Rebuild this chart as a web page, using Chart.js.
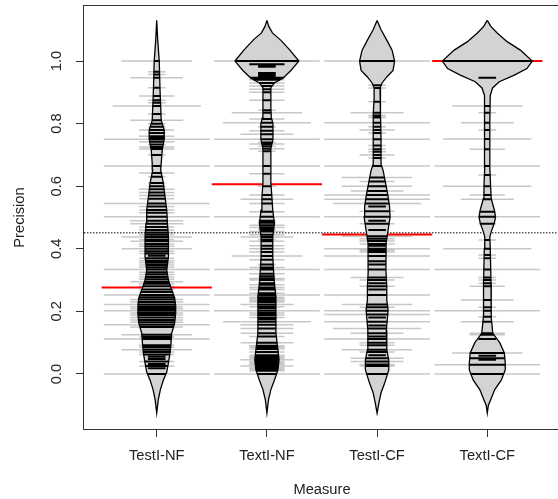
<!DOCTYPE html>
<html>
<head>
<meta charset="utf-8">
<script src="https://cdn.jsdelivr.net/npm/chart.js@4.4.1/dist/chart.umd.min.js"></script>
<style>
  html, body { margin: 0; padding: 0; background: #fff; overflow: hidden; }
  #wrap { width: 558px; height: 499px; overflow: hidden; }
</style>
</head>
<body>
<div id="wrap"><canvas id="beanChart" width="560" height="499"></canvas></div>
<script>
const categories = ["TestI-NF", "TextI-NF", "TestI-CF", "TextI-CF"];
const yTicks = [0, 0.2, 0.4, 0.6, 0.8, 1.0];

// group means (red) and the overall mean (dotted)
const means = [0.276, 0.606, 0.446, 1.0];
const overallMean = 0.451;

// density outline of each bean: [precision, half width in x units]
const testNFShape = [[1.13,0],[1.067,0.009],[1.0,0.023],[0.907,0.03],[0.81,0.041],[0.78,0.068],[0.75,0.068],[0.716,0.05],[0.674,0.041],[0.652,0.036],[0.61,0.06],[0.567,0.075],[0.524,0.091],[0.482,0.097],[0.438,0.106],[0.375,0.106],[0.332,0.091],[0.3,0.106],[0.268,0.136],[0.243,0.163],[0.222,0.17],[0.195,0.172],[0.163,0.163],[0.13,0.136],[0.1,0.13],[0.067,0.121],[0.035,0.106],[0.006,0.091],[-0.02,0.06],[-0.05,0.033],[-0.083,0.014],[-0.125,0]];
const textNFShape = [[1.13,0],[1.11,0.018],[1.09,0.05],[1.067,0.125],[1.035,0.209],[1.0,0.29],[0.97,0.218],[0.945,0.145],[0.93,0.068],[0.915,0.036],[0.85,0.036],[0.82,0.04],[0.8,0.055],[0.75,0.055],[0.72,0.036],[0.65,0.036],[0.61,0.036],[0.567,0.045],[0.524,0.053],[0.482,0.068],[0.438,0.053],[0.375,0.053],[0.332,0.06],[0.29,0.068],[0.247,0.082],[0.13,0.082],[0.077,0.1],[0.045,0.11],[0.013,0.1],[-0.02,0.068],[-0.05,0.036],[-0.083,0.014],[-0.125,0]];
const testCFShape = [[1.13,0],[1.1,0.036],[1.067,0.088],[1.035,0.136],[1.0,0.159],[0.97,0.145],[0.95,0.09],[0.93,0.045],[0.914,0.027],[0.88,0.027],[0.83,0.034],[0.75,0.036],[0.67,0.036],[0.65,0.055],[0.6,0.082],[0.567,0.1],[0.535,0.113],[0.502,0.118],[0.46,0.1],[0.418,0.082],[0.332,0.08],[0.28,0.088],[0.236,0.088],[0.204,0.1],[0.14,0.084],[0.077,0.088],[0.045,0.106],[0.013,0.106],[-0.03,0.068],[-0.06,0.036],[-0.09,0.018],[-0.125,0]];
const textCFShape = [[1.13,0],[1.11,0.034],[1.09,0.09],[1.062,0.18],[1.035,0.3],[1.0,0.408],[0.976,0.36],[0.955,0.245],[0.934,0.109],[0.914,0.048],[0.89,0.027],[0.8,0.023],[0.66,0.023],[0.6,0.03],[0.56,0.036],[0.524,0.064],[0.502,0.075],[0.482,0.064],[0.455,0.036],[0.438,0.023],[0.4,0.027],[0.29,0.034],[0.18,0.036],[0.13,0.05],[0.1,0.113],[0.067,0.155],[0.035,0.163],[0.013,0.163],[-0.02,0.127],[-0.05,0.068],[-0.083,0.03],[-0.1,0.01],[-0.125,0]];

// observations: [precision, number of items with that value]
const testNFLines = [[1.0,4],[0.966,1],[0.957,1],[0.947,3],[0.915,1],[0.888,2],[0.875,1],[0.867,1],[0.856,5],[0.831,1],[0.811,3],[0.8,1],[0.79,1],[0.78,2],[0.77,1],[0.76,2],[0.755,1],[0.75,6],[0.742,2],[0.733,1],[0.725,2],[0.719,2],[0.7,1],[0.665,6],[0.642,2],[0.63,1],[0.61,1],[0.6,1],[0.59,2],[0.58,2],[0.57,2],[0.56,2],[0.545,6],[0.535,2],[0.524,2],[0.515,2],[0.502,6],[0.49,3],[0.48,3],[0.47,2],[0.46,2],[0.452,2],[0.445,2],[0.438,4],[0.43,2],[0.424,3],[0.415,2],[0.408,2],[0.4,4],[0.392,2],[0.385,2],[0.378,1],[0.37,2],[0.362,2],[0.355,2],[0.348,2],[0.341,2],[0.334,6],[0.325,2],[0.318,2],[0.31,2],[0.303,2],[0.295,3],[0.288,2],[0.28,2],[0.27,2],[0.262,2],[0.252,6],[0.245,2],[0.238,3],[0.23,3],[0.222,6],[0.215,3],[0.208,3],[0.202,6],[0.195,3],[0.188,3],[0.18,3],[0.172,3],[0.165,3],[0.157,6],[0.15,3],[0.125,4],[0.118,2],[0.112,6],[0.092,2],[0.085,2],[0.077,4],[0.07,2],[0.062,2],[0.055,1],[0.048,1],[0.04,2],[0.032,1],[0.025,2],[0.018,1],[0.0,6]];
const textNFLines = [[1.0,6],[0.99,2],[0.985,1],[0.982,1],[0.962,1],[0.958,1],[0.955,1],[0.952,1],[0.947,2],[0.94,2],[0.93,2],[0.92,2],[0.91,2],[0.9,2],[0.875,2],[0.843,1],[0.835,4],[0.815,2],[0.803,5],[0.79,1],[0.777,2],[0.766,3],[0.75,6],[0.74,1],[0.735,2],[0.728,1],[0.72,2],[0.712,1],[0.665,6],[0.64,2],[0.6,1],[0.572,2],[0.558,3],[0.545,2],[0.518,2],[0.502,6],[0.49,1],[0.483,1],[0.475,2],[0.468,2],[0.462,1],[0.455,2],[0.445,2],[0.438,3],[0.43,1],[0.424,2],[0.41,2],[0.4,2],[0.39,2],[0.377,4],[0.365,2],[0.35,1],[0.34,2],[0.334,6],[0.32,2],[0.312,1],[0.305,2],[0.3,2],[0.29,1],[0.285,2],[0.276,2],[0.27,2],[0.258,2],[0.252,6],[0.245,2],[0.24,2],[0.235,2],[0.23,2],[0.222,3],[0.215,2],[0.21,1],[0.202,6],[0.195,2],[0.188,2],[0.18,2],[0.175,1],[0.167,5],[0.157,3],[0.145,3],[0.13,3],[0.12,2],[0.1,3],[0.09,2],[0.085,2],[0.08,2],[0.07,2],[0.06,2],[0.055,2],[0.05,2],[0.045,3],[0.04,2],[0.035,2],[0.03,2],[0.025,3],[0.02,2],[0.015,2],[0.01,2],[0.0,6]];
const testCFLines = [[1.0,6],[0.923,1],[0.914,1],[0.87,1],[0.835,3],[0.826,1],[0.82,1],[0.803,6],[0.79,1],[0.78,2],[0.77,1],[0.75,6],[0.73,1],[0.718,1],[0.71,1],[0.7,2],[0.69,1],[0.665,6],[0.628,4],[0.615,2],[0.6,4],[0.585,3],[0.572,6],[0.558,6],[0.545,5],[0.535,1],[0.52,2],[0.502,6],[0.49,1],[0.48,2],[0.46,1],[0.44,4],[0.432,2],[0.425,2],[0.415,2],[0.41,1],[0.4,6],[0.395,2],[0.39,2],[0.377,6],[0.36,1],[0.35,1],[0.334,6],[0.308,3],[0.3,2],[0.29,1],[0.28,2],[0.27,1],[0.252,6],[0.222,4],[0.213,2],[0.202,6],[0.19,6],[0.18,1],[0.167,6],[0.155,1],[0.145,5],[0.13,3],[0.12,1],[0.112,6],[0.1,2],[0.092,2],[0.077,4],[0.07,2],[0.06,1],[0.05,3],[0.04,3],[0.03,2],[0.025,2],[0.0,6]];
const textCFLines = [[1.0,6],[0.947,1],[0.856,4],[0.835,1],[0.803,3],[0.78,1],[0.751,5],[0.718,2],[0.665,6],[0.636,1],[0.6,5],[0.572,2],[0.558,3],[0.518,1],[0.502,6],[0.48,1],[0.428,1],[0.4,5],[0.38,1],[0.37,1],[0.334,6],[0.308,1],[0.3,1],[0.29,1],[0.28,2],[0.236,3],[0.213,1],[0.202,6],[0.183,1],[0.167,3],[0.13,2],[0.128,1],[0.125,2],[0.112,1],[0.067,4],[0.058,1],[0.05,2],[0.045,1],[0.029,6],[0.0,6]];

const xMin = 0.34, xMax = 4.66;
const yMin = -0.176, yMax = 1.176;
const lineHalfPerItem = 0.08;   // half length of a beanline per observation
const lineHalfMax = 0.48;
const meanHalf = 0.5;

const shapes = [testNFShape, textNFShape, testCFShape, textCFShape];
const lineSets = [testNFLines, textNFLines, testCFLines, textCFLines];

// half width of the bean outline at a given precision
function halfWidthAt(shape, v) {
    for (let i = 0; i < shape.length - 1; i++) {
        const [v0, w0] = shape[i];
        const [v1, w1] = shape[i + 1];
        if (v <= v0 && v >= v1) {
            return w0 + (w1 - w0) * (v0 - v) / (v0 - v1);
        }
    }
    return 0;
}

// push the two pieces of a centred segment that lie outside the bean
function pushOuter(pts, c, v, half, inner) {
    if (half <= inner) return;
    pts.push({ x: c - half, y: v }, { x: c - inner, y: v }, { x: c, y: null });
    pts.push({ x: c + inner, y: v }, { x: c + half, y: v }, { x: c, y: null });
}

const grayPts = [];
const blackPts = [];
const redPts = [];
const beanSets = [];

shapes.forEach((shape, i) => {
    const c = i + 1;
    lineSets[i].forEach(([v, n]) => {
        const half = Math.min(n * lineHalfPerItem, lineHalfMax);
        const inner = Math.min(half, halfWidthAt(shape, v));
        pushOuter(grayPts, c, v, half, inner);
        if (inner > 0) {
            blackPts.push({ x: c - inner, y: v }, { x: c + inner, y: v }, { x: c, y: null });
        }
    });
    // the mean line disappears behind the bean
    pushOuter(redPts, c, means[i], meanHalf, halfWidthAt(shape, means[i]));

    const right = shape.map(([v, w]) => ({ x: c + w, y: v }));
    const left = shape.slice().reverse().map(([v, w]) => ({ x: c - w, y: v }));
    beanSets.push({
        data: right.concat(left),
        borderColor: "#000",
        borderWidth: 1.3,
        backgroundColor: "#d3d3d3",
        fill: "shape",
        order: 5
    });
});

const lineDefaults = { pointRadius: 0, tension: 0, spanGaps: false, fill: false };

const datasets = [
    Object.assign({ data: grayPts, borderColor: "#c8c8c8", borderWidth: 1.5, order: 10 }, lineDefaults),
    Object.assign({
        data: [{ x: xMin, y: overallMean }, { x: xMax, y: overallMean }],
        borderColor: "#000", borderWidth: 1, borderDash: [1.5, 1.5], order: 9
    }, lineDefaults),
    Object.assign({ data: redPts, borderColor: "#ff0000", borderWidth: 2, order: 8 }, lineDefaults),
    ...beanSets.map(b => Object.assign({}, lineDefaults, b)),
    Object.assign({ data: blackPts, borderColor: "#000", borderWidth: 2, order: 1 }, lineDefaults)
];

const textColor = "#222";
const fontFamily = '"Liberation Sans", Arial, sans-serif';

// box around the plot region
const boxPlugin = {
    id: "plotBox",
    afterDraw(chart) {
        const { ctx, chartArea: a } = chart;
        ctx.save();
        ctx.strokeStyle = "#333";
        ctx.lineWidth = 1;
        ctx.strokeRect(a.left - 0.5, a.top - 0.5, a.right - a.left + 1, a.bottom - a.top + 1);
        ctx.restore();
    }
};

// R-style y tick labels, turned parallel to the axis
const yLabelPlugin = {
    id: "yLabels",
    afterDraw(chart) {
        const { ctx, scales: { y } } = chart;
        ctx.save();
        ctx.font = "14.7px " + fontFamily;
        ctx.fillStyle = textColor;
        ctx.textAlign = "center";
        ctx.textBaseline = "middle";
        yTicks.forEach(v => {
            ctx.save();
            ctx.translate(y.left + 57, y.getPixelForValue(v));
            ctx.rotate(-Math.PI / 2);
            ctx.fillText(v.toFixed(1), 0, 0);
            ctx.restore();
        });
        ctx.restore();
    }
};

new Chart(document.getElementById("beanChart"), {
    type: "line",
    data: { datasets: datasets },
    plugins: [boxPlugin, yLabelPlugin],
    options: {
        responsive: false,
        animation: false,
        events: [],
        layout: { padding: { top: 6, right: 0, bottom: 0, left: 0 } },
        plugins: { legend: { display: false }, tooltip: { enabled: false } },
        scales: {
            x: {
                type: "linear",
                min: xMin,
                max: xMax,
                afterBuildTicks: s => { s.ticks = categories.map((c, i) => ({ value: i + 1 })); },
                afterFit: s => { s.height = 70; },
                border: { display: false },
                grid: { drawOnChartArea: false, drawTicks: true, tickLength: 8, color: "#333" },
                ticks: {
                    padding: 10,
                    color: textColor,
                    font: { family: fontFamily, size: 14.7 },
                    maxRotation: 0,
                    callback: v => categories[v - 1]
                },
                title: {
                    display: true,
                    text: "Measure",
                    color: textColor,
                    font: { family: fontFamily, size: 14.7 },
                    padding: { top: 0, bottom: 0 }
                }
            },
            y: {
                type: "linear",
                min: yMin,
                max: yMax,
                afterBuildTicks: s => { s.ticks = yTicks.map(v => ({ value: v })); },
                afterFit: s => { s.width = 84; },
                border: { display: false },
                grid: { drawOnChartArea: false, drawTicks: true, tickLength: 8, color: "#333" },
                ticks: { display: false },
                title: {
                    display: true,
                    text: "Precision",
                    color: textColor,
                    font: { family: fontFamily, size: 14.7 },
                    padding: { top: 11, bottom: 0 }
                }
            }
        }
    }
});
</script>
</body>
</html>
